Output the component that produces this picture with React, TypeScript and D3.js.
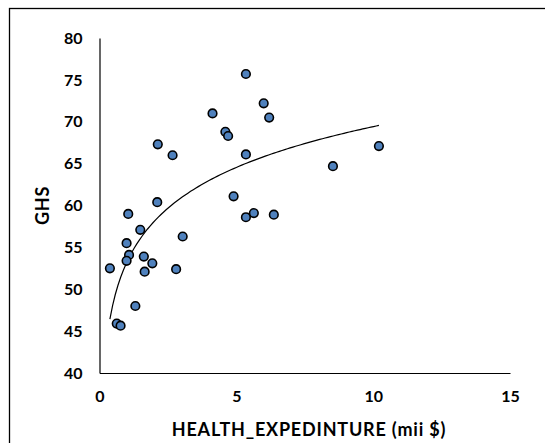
import React, { useRef, useEffect } from "react";
import * as d3 from "d3";

// health expenditure (mii $)
const healthExp = [
  5.35, 6.0, 6.2, 4.13, 4.6, 4.7, 2.13, 2.67, 5.35, 4.9, 2.11, 1.05, 5.35, 5.64, 6.37,
  1.49, 10.21, 8.53, 3.04, 0.99, 1.08, 0.99, 1.62, 1.93, 1.65, 2.8, 0.38, 1.31, 0.63, 0.77,
];
// GHS score
const ghs = [
  75.7, 72.2, 70.5, 71.0, 68.8, 68.3, 67.3, 66.0, 66.1, 61.1, 60.4, 59.0, 58.6, 59.1, 58.9,
  57.1, 67.1, 64.7, 56.3, 55.5, 54.1, 53.4, 53.9, 53.1, 52.1, 52.4, 52.5, 48.0, 45.9, 45.65,
];
const xTicks = [0, 5, 10, 15];
const yTicks = [40, 45, 50, 55, 60, 65, 70, 75, 80];

const App = () => {
  const svgRef = useRef<SVGSVGElement>(null);

  useEffect(() => {
    const svg = d3.select(svgRef.current);
    svg.selectAll("*").remove();
    const width = 545;
    const height = 443;
    const font = "Lato, 'Open Sans', sans-serif";

    const x = d3.scaleLinear().domain([0, 15]).range([99.5, 510]);
    const y = d3.scaleLinear().domain([40, 80]).range([373, 38]);

    // outer chart border
    svg
      .append("rect")
      .attr("x", 9.5)
      .attr("y", 8.5)
      .attr("width", width)
      .attr("height", height)
      .attr("fill", "white")
      .attr("stroke", "#000")
      .attr("stroke-width", 1.3);

    // axes
    const xAxis = svg
      .append("g")
      .attr("transform", `translate(0,${y(40)})`)
      .call(d3.axisBottom(x).tickValues(xTicks).tickSize(0).tickPadding(18));
    xAxis.select(".domain").attr("stroke", "#000").attr("stroke-width", 1.2);
    xAxis
      .selectAll("text")
      .style("font-family", font)
      .style("font-weight", "bold")
      .style("font-size", "16px")
      .style("fill", "#000");

    const yAxis = svg
      .append("g")
      .attr("transform", `translate(${x(0)},0)`)
      .call(d3.axisLeft(y).tickValues(yTicks).tickSize(0).tickPadding(17));
    yAxis.select(".domain").attr("stroke", "#000").attr("stroke-width", 1.2);
    yAxis
      .selectAll("text")
      .style("font-family", font)
      .style("font-weight", "bold")
      .style("font-size", "16px")
      .style("fill", "#000");

    // log trendline, least squares on ln(x)
    const lx = healthExp.map((v) => Math.log(v));
    const mx = d3.mean(lx) as number;
    const my = d3.mean(ghs) as number;
    const a =
      d3.sum(lx, (v, i) => (v - mx) * (ghs[i] - my)) / d3.sum(lx, (v) => (v - mx) ** 2);
    const b = my - a * mx;
    const [x0, x1] = d3.extent(healthExp) as [number, number];
    const trend = d3.range(0, 101).map((i) => {
      const xv = x0 + ((x1 - x0) * i) / 100;
      return [xv, a * Math.log(xv) + b];
    });
    svg
      .append("path")
      .datum(trend)
      .attr("fill", "none")
      .attr("stroke", "#000")
      .attr("stroke-width", 1.2)
      .attr(
        "d",
        d3
          .line()
          .x((d) => x(d[0]))
          .y((d) => y(d[1]))
      );

    svg
      .selectAll(".dot")
      .data(healthExp)
      .enter()
      .append("circle")
      .attr("class", "dot")
      .attr("cx", (d) => x(d))
      .attr("cy", (d, i) => y(ghs[i]))
      .attr("r", 4.3)
      .attr("fill", "#4f81bd")
      .attr("stroke", "#000")
      .attr("stroke-width", 1.6);

    svg
      .append("text")
      .attr("x", 309)
      .attr("y", 436)
      .attr("text-anchor", "middle")
      .style("font-family", font)
      .style("font-weight", "bold")
      .style("font-size", "18px")
      .style("letter-spacing", "0.8px")
      .text("HEALTH_EXPEDINTURE (mii $)");

    svg
      .append("text")
      .attr("transform", "translate(49,205.5) rotate(-90)")
      .attr("text-anchor", "middle")
      .style("font-family", font)
      .style("font-weight", "bold")
      .style("font-size", "18px")
      .style("letter-spacing", "0.8px")
      .text("GHS");
  }, []);

  return (
    <svg
      ref={svgRef}
      width={545}
      height={443}
      style={{ position: "absolute", left: 0, top: 0 }}
    ></svg>
  );
};

export default App;
